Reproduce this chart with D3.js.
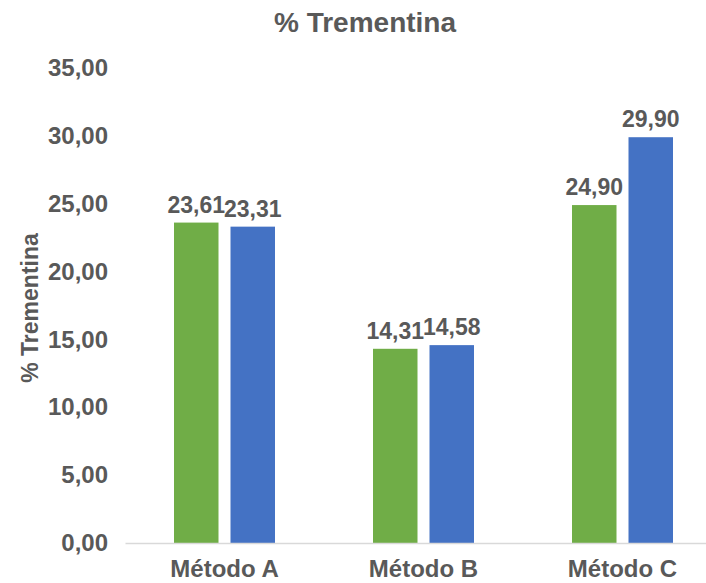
<!DOCTYPE html>
<html><head><meta charset="utf-8">
<script src="https://cdn.jsdelivr.net/npm/d3@7"></script>
<style>body{margin:0;background:#fff}svg{display:block}text{font-family:"Liberation Sans",Arial,sans-serif;font-weight:bold;fill:#595959}</style>
</head><body>
<svg id="c" width="706" height="583"></svg>
<script>
const categories = ["Método A", "Método B", "Método C"];
const series1 = [23.61, 14.31, 24.90];
const series2 = [23.31, 14.58, 29.90];
const yTicks = [0, 5, 10, 15, 20, 25, 30, 35];
const colors = ["#70AD47", "#4472C4"];

const svg = d3.select("#c");
const fmt = v => d3.format(".2f")(v).replace(".", ",");
const y = d3.scaleLinear().domain([0, 35]).range([543, 68]);
const x = d3.scaleBand().domain(categories).range([125, 722]);
const barW = 44.5, gap = 12;

svg.append("text").attr("x", 365).attr("y", 32).attr("text-anchor", "middle")
  .style("font-size", "28px").text("% Trementina");

svg.append("text").attr("transform", "translate(38,308) rotate(-90)")
  .attr("text-anchor", "middle").style("font-size", "23px").text("% Trementina");

const yAxis = svg.append("g").attr("transform", "translate(118,0)")
  .call(d3.axisLeft(y).tickValues(yTicks).tickFormat(fmt).tickSize(0).tickPadding(0));
yAxis.select(".domain").remove();
yAxis.selectAll("text").style("font-size", "24px").attr("fill", "#595959").attr("x", -10);

const data = [series1, series2];
data.forEach((s, i) => {
  svg.append("g").selectAll("rect").data(s).join("rect")
    .attr("x", (d, j) => x(categories[j]) + x.bandwidth() / 2 + (i === 0 ? -gap / 2 - barW : gap / 2))
    .attr("width", barW)
    .attr("y", d => y(d)).attr("height", d => y(0) - y(d))
    .attr("fill", colors[i]);
  svg.append("g").selectAll("text").data(s).join("text")
    .attr("x", (d, j) => x(categories[j]) + x.bandwidth() / 2 + (i === 0 ? -gap / 2 - barW / 2 : gap / 2 + barW / 2))
    .attr("y", d => y(d) - 10).attr("text-anchor", "middle")
    .style("font-size", "23px").text(d => fmt(d));
});

const xAxis = svg.append("g").attr("transform", "translate(0,543)")
  .call(d3.axisBottom(x).tickSize(0).tickPadding(0));
xAxis.select(".domain").attr("stroke", "#D9D9D9").attr("stroke-width", 1.5);
xAxis.selectAll("text").style("font-size", "24px").attr("fill", "#595959").attr("dy", 0).attr("y", 34);
</script>
</body></html>
